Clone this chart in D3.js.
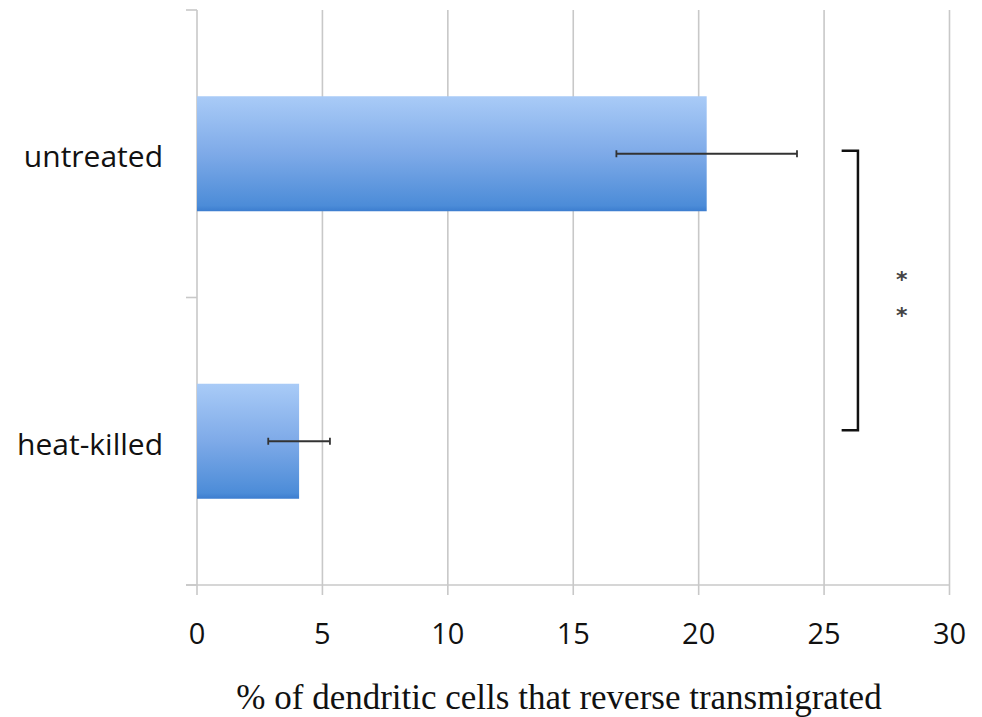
<!DOCTYPE html>
<html lang="en">
<head>
  <meta charset="UTF-8">
  <title>Reverse transmigration</title>
  <script src="https://cdn.jsdelivr.net/npm/d3@7"></script>
  <style>
    body { margin: 0; background: #fff; }
    svg { display: block; }
  </style>
</head>
<body>
  <div id="chart"></div>

  <script>
    const categories = ["untreated", "heat-killed"];
    const values = [20.32, 4.07];
    const errors = [3.6, 1.23];
    const xTicks = [0, 5, 10, 15, 20, 25, 30];
    const xTitle = "% of dendritic cells that reverse transmigrated";

    const width = 982,
      height = 717;

    const svg = d3.select('#chart')
      .append('svg')
        .attr('width', width)
        .attr('height', height);

    const x = d3.scaleLinear()
      .domain([0, 30])
      .range([197, 949.5]);

    const y = d3.scaleBand()
      .domain(categories)
      .range([10, 585])
      .paddingInner(0.6)
      .paddingOuter(0.3);

    const [yTop, yBottom] = y.range();

    // bar gradient
    const grad = svg.append('defs').append('linearGradient')
      .attr('id', 'barGrad')
      .attr('x1', 0).attr('y1', 0).attr('x2', 0).attr('y2', 1);
    grad.append('stop').attr('offset', '0%').attr('stop-color', '#a9cbf7');
    grad.append('stop').attr('offset', '50%').attr('stop-color', '#7eaae8');
    grad.append('stop').attr('offset', '95%').attr('stop-color', '#4c8cd8');
    grad.append('stop').attr('offset', '100%').attr('stop-color', '#3c7dcf');

    // vertical gridlines
    svg.append('g')
      .selectAll('line')
      .data(xTicks)
      .join('line')
        .attr('x1', d => x(d)).attr('x2', d => x(d))
        .attr('y1', yTop).attr('y2', yBottom + 10)
        .attr('stroke', '#c8c8c8')
        .attr('stroke-width', 1.6);

    // bottom axis line
    svg.append('line')
      .attr('x1', x(0) - 11).attr('x2', x(30))
      .attr('y1', yBottom).attr('y2', yBottom)
      .attr('stroke', '#c8c8c8')
      .attr('stroke-width', 1.6);

    // left category separator ticks
    const sep = d3.range(categories.length + 1).map(i => yTop + i * (yBottom - yTop) / categories.length);
    svg.append('g')
      .selectAll('line')
      .data(sep)
      .join('line')
        .attr('x1', x(0) - 11).attr('x2', x(0))
        .attr('y1', d => d).attr('y2', d => d)
        .attr('stroke', '#c8c8c8')
        .attr('stroke-width', 1.6);

    // bars
    svg.append('g')
      .selectAll('rect')
      .data(values)
      .join('rect')
        .attr('x', x(0))
        .attr('y', (d, i) => y(categories[i]))
        .attr('width', d => x(d) - x(0))
        .attr('height', y.bandwidth())
        .attr('fill', 'url(#barGrad)');

    // error bars
    const eb = svg.append('g')
      .attr('stroke', '#333')
      .attr('stroke-width', 1.8);
    values.forEach((v, i) => {
      const cy = y(categories[i]) + y.bandwidth() / 2;
      eb.append('line')
        .attr('x1', x(v - errors[i])).attr('x2', x(v + errors[i]))
        .attr('y1', cy).attr('y2', cy);
      [v - errors[i], v + errors[i]].forEach(e => {
        eb.append('line')
          .attr('x1', x(e)).attr('x2', x(e))
          .attr('y1', cy - 3.5).attr('y2', cy + 3.5);
      });
    });

    // x tick labels
    svg.append('g')
      .selectAll('text')
      .data(xTicks)
      .join('text')
        .attr('x', d => x(d))
        .attr('y', 632)
        .attr('text-anchor', 'middle')
        .attr('dominant-baseline', 'central')
        .style('font-family', '"Open Sans", Lato, sans-serif')
        .style('font-size', '29px')
        .style('font-weight', 500)
        .style('fill', '#111')
        .text(d => d);

    // category labels
    svg.append('g')
      .selectAll('text')
      .data(categories)
      .join('text')
        .attr('x', 163)
        .attr('y', d => y(d) + y.bandwidth() / 2 + 2)
        .attr('text-anchor', 'end')
        .attr('dominant-baseline', 'central')
        .style('font-family', '"Open Sans", Lato, sans-serif')
        .style('font-size', '30px')
        .style('font-weight', 500)
        .style('fill', '#111')
        .text(d => d);

    // axis title
    svg.append('text')
      .attr('x', 559)
      .attr('y', 697)
      .attr('text-anchor', 'middle')
      .attr('dominant-baseline', 'central')
      .style('font-family', '"Liberation Serif", "DejaVu Serif", serif')
      .style('font-size', '35px')
      .style('fill', '#111')
      .text(xTitle);

    // significance bracket
    const topY = y(categories[0]) + y.bandwidth() / 2 - 3;
    const botY = y(categories[1]) + y.bandwidth() / 2 - 11;
    svg.append('path')
      .attr('d', `M${x(25.7)},${topY} H${x(26.35)} V${botY} H${x(25.7)}`)
      .attr('fill', 'none')
      .attr('stroke', '#111')
      .attr('stroke-width', 2.5);

    svg.append('g')
      .selectAll('text')
      .data([276, 312])
      .join('text')
        .attr('x', x(28.1))
        .attr('y', d => d + 3)
        .attr('text-anchor', 'middle')
        .attr('dominant-baseline', 'central')
        .style('font-family', '"DejaVu Sans", sans-serif')
        .style('font-size', '22px')
        .style('font-weight', 'bold')
        .style('fill', '#444')
        .text('*');
  </script>
</body>
</html>
